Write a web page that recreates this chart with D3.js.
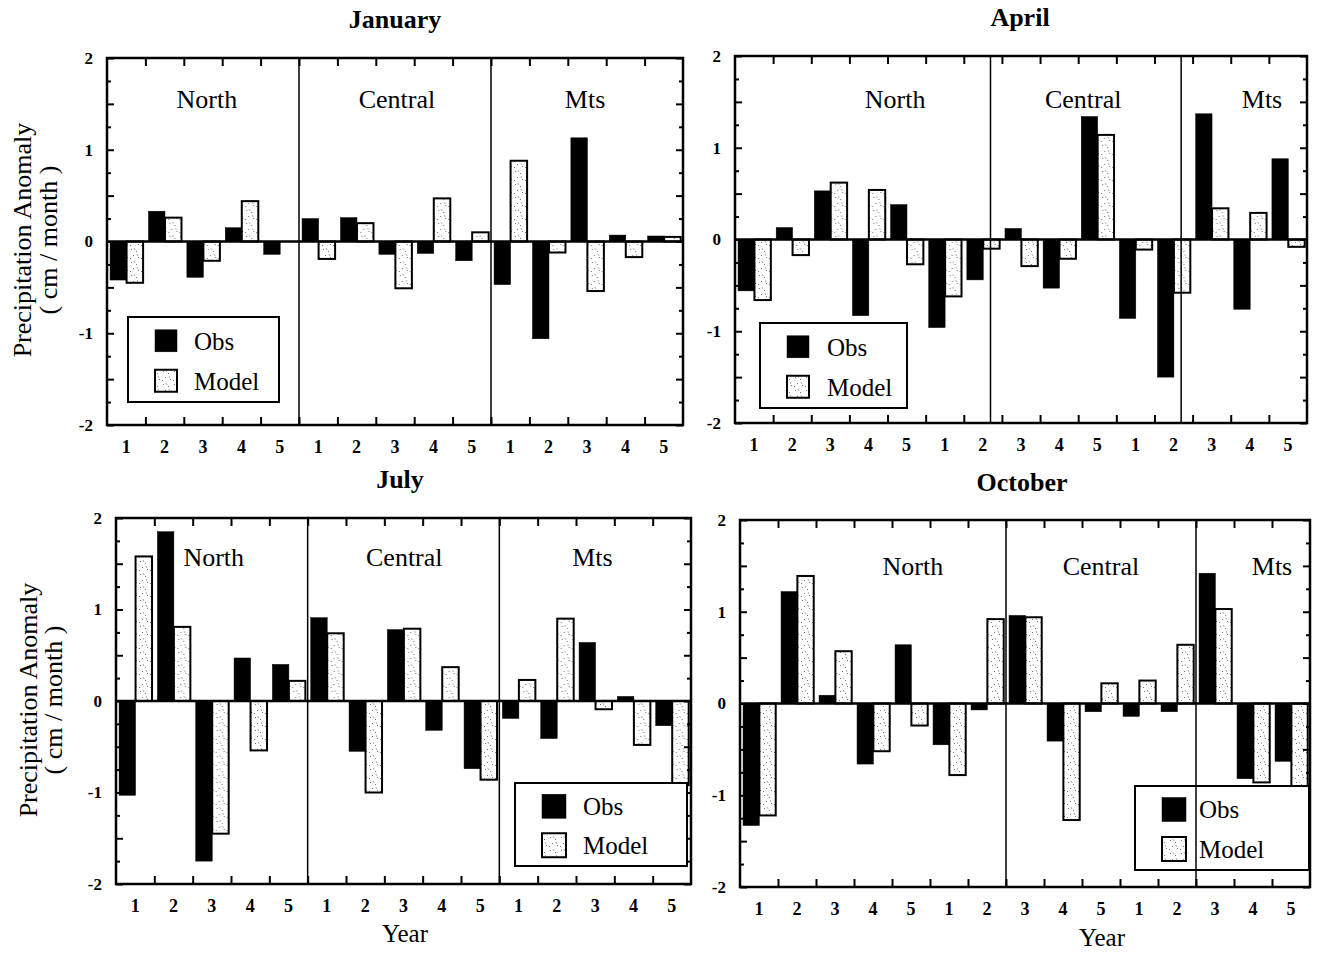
<!DOCTYPE html>
<html>
<head>
<meta charset="utf-8">
<script src="https://cdn.jsdelivr.net/npm/d3@7"></script>
<style>
  body { margin: 0; background: #fff; }
  text { font-family: "Liberation Serif", "Times New Roman", serif; fill: #000; }
</style>
</head>
<body>
<script>
// data (cm / month), 15 slots = 3 regions x 5 years
var regions = ["North", "Central", "Mts"];
var slotLabels = ["1","2","3","4","5","1","2","3","4","5","1","2","3","4","5"];
var series = ["Obs", "Model"];

var janObs   = [-0.42, 0.33, -0.39, 0.15, -0.14,  0.25, 0.26, -0.14, -0.13, -0.21,  -0.47, -1.06, 1.13, 0.07, 0.06];
var janModel = [-0.45, 0.26, -0.21, 0.44, 0.00,  -0.19, 0.20, -0.51, 0.47, 0.10,  0.88, -0.12, -0.54, -0.17, 0.05];

var aprObs   = [-0.56, 0.13, 0.53, -0.83, 0.38, -0.96, -0.44,  0.12, -0.53, 1.34, -0.86, -1.50,  1.37, -0.76, 0.88];
var aprModel = [-0.66, -0.17, 0.62, 0.54, -0.27, -0.62, -0.10,  -0.29, -0.21, 1.14, -0.11, -0.58,  0.34, 0.29, -0.08];

var julObs   = [-1.03, 1.85, -1.75, 0.47, 0.40,  0.91, -0.55, 0.78, -0.32, -0.74,  -0.19, -0.41, 0.64, 0.05, -0.27];
var julModel = [1.58, 0.81, -1.45, -0.54, 0.22,  0.74, -1.00, 0.79, 0.37, -0.86,  0.23, 0.90, -0.09, -0.48, -0.92];

var octObs   = [-1.33, 1.22, 0.09, -0.66, 0.64, -0.45, -0.07,  0.96, -0.41, -0.09, -0.14, -0.09,  1.42, -0.82, -0.63];
var octModel = [-1.22, 1.39, 0.57, -0.52, -0.24, -0.78, 0.92,  0.94, -1.27, 0.22, 0.25, 0.64,  1.03, -0.86, -1.03];

var yTickLabels = [-2, -1, 0, 1, 2];

var panels = [
  { title: "January", obs: janObs, model: janModel,
    box: {l: 107, r: 683, t: 58, b: 425}, titleX: 395, titleY: 28,
    dividers: [5, 10], regionPos: [2.6, 7.55, 12.45], regionY: 1.55,
    legend: {x: 128, y: 317, w: 151, h: 85, s: 22, tx: 66}, yTitle: [22, 48, 240] },
  { title: "April", obs: aprObs, model: aprModel,
    box: {l: 735, r: 1307, t: 56, b: 423}, titleX: 1020, titleY: 26,
    dividers: [6.7, 11.7], regionPos: [4.2, 9.13, 13.82], regionY: 1.53,
    legend: {x: 760, y: 323, w: 147, h: 85, s: 22, tx: 67} },
  { title: "July", obs: julObs, model: julModel,
    box: {l: 116, r: 691, t: 518, b: 884}, titleX: 400, titleY: 488,
    dividers: [5, 10], regionPos: [2.55, 7.52, 12.43], regionY: 1.57,
    legend: {x: 515, y: 783, w: 172, h: 83, s: 24, tx: 68}, yTitle: [28, 53, 700], xTitle: [405, 942] },
  { title: "October", obs: octObs, model: octModel,
    box: {l: 740, r: 1310, t: 520, b: 887}, titleX: 1022, titleY: 491,
    dividers: [7, 12], regionPos: [4.55, 9.5, 14.0], regionY: 1.50,
    legend: {x: 1135, y: 786, w: 174, h: 84, s: 24, tx: 64}, xTitle: [1102, 946] }
];

var svg = d3.select("body").append("svg")
  .attr("width", 1317)
  .attr("height", 954);

// stipple fill for the model bars
var pat = svg.append("defs").append("pattern")
  .attr("id", "stipple")
  .attr("patternUnits", "userSpaceOnUse")
  .attr("width", 11).attr("height", 13);
pat.append("rect").attr("width", 11).attr("height", 13).attr("fill", "#fff");
[[2,2],[7,4],[4,8],[9,10],[1,11]].forEach(function(p) {
  pat.append("rect").attr("x", p[0]).attr("y", p[1]).attr("width", 1).attr("height", 1).attr("fill", "#777");
});
pat.append("path").attr("d", "M5,1 L6,3 M8,7 L9,9").attr("stroke", "#999").attr("stroke-width", 0.8);

panels.forEach(drawPanel);

function drawPanel(p) {
  var b = p.box;
  var g = svg.append("g");

  var x = d3.scaleLinear().domain([0, 15]).range([b.l, b.r]);
  var xBand = d3.scaleBand().domain(d3.range(15)).range([b.l, b.r]);
  var inner = d3.scaleBand().domain(series)
    .range([xBand.bandwidth() * 0.08, xBand.bandwidth() * 0.94]);
  var y = d3.scaleLinear().domain([-2, 2]).range([b.b, b.t]);

  // title
  g.append("text")
    .attr("x", p.titleX).attr("y", p.titleY)
    .attr("text-anchor", "middle")
    .style("font-size", "26px").style("font-weight", "bold")
    .text(p.title);

  // bars
  var rows = d3.range(15).map(function(i) {
    return { i: i, Obs: p.obs[i], Model: p.model[i] };
  });
  var slot = g.selectAll(".slot")
    .data(rows)
    .enter().append("g")
    .attr("transform", function(d) { return "translate(" + xBand(d.i) + ",0)"; });

  slot.selectAll("rect")
    .data(function(d) { return series.map(function(k) { return {key: k, v: d[k]}; }); })
    .enter().append("rect")
    .attr("x", function(d) { return inner(d.key); })
    .attr("width", inner.bandwidth())
    .attr("y", function(d) { return y(Math.max(0, d.v)); })
    .attr("height", function(d) { return Math.abs(y(d.v) - y(0)); })
    .attr("fill", function(d) { return d.key == "Obs" ? "#000" : "url(#stipple)"; })
    .attr("stroke", "#000")
    .attr("stroke-width", function(d) { return d.key == "Obs" ? 0.5 : 2; });

  // zero line
  g.append("line")
    .attr("x1", b.l).attr("x2", b.r)
    .attr("y1", y(0)).attr("y2", y(0))
    .attr("stroke", "#000").attr("stroke-width", 2.5);

  // y ticks, inward on both sides
  var major = d3.range(-2, 2.01, 0.5);
  var minor = d3.range(-1.75, 2, 0.5);
  [[major, 7], [minor, 4]].forEach(function(t) {
    g.append("g").attr("transform", "translate(" + b.l + ",0)")
      .call(d3.axisLeft(y).tickValues(t[0]).tickSize(-t[1]).tickFormat(""))
      .call(function(a) { a.select(".domain").remove(); a.selectAll("line").attr("stroke-width", 2); });
    g.append("g").attr("transform", "translate(" + b.r + ",0)")
      .call(d3.axisRight(y).tickValues(t[0]).tickSize(-t[1]).tickFormat(""))
      .call(function(a) { a.select(".domain").remove(); a.selectAll("line").attr("stroke-width", 2); });
  });

  // y labels
  g.append("g").attr("transform", "translate(" + b.l + ",0)")
    .call(d3.axisLeft(y).tickValues(yTickLabels).tickSize(0).tickPadding(14)
      .tickFormat(function(d) { return String(d); }))
    .call(function(a) {
      a.select(".domain").remove();
      a.selectAll("text").style("font-size", "17px").style("font-weight", "bold")
        .style("font-family", "'Liberation Serif', serif");
    });

  // x ticks at slot boundaries, top and bottom
  g.append("g").attr("transform", "translate(0," + b.b + ")")
    .call(d3.axisBottom(x).tickValues(d3.range(1, 15)).tickSize(-8).tickFormat(""))
    .call(function(a) { a.select(".domain").remove(); a.selectAll("line").attr("stroke-width", 2); });
  g.append("g").attr("transform", "translate(0," + b.t + ")")
    .call(d3.axisTop(x).tickValues(d3.range(1, 15)).tickSize(-8).tickFormat(""))
    .call(function(a) { a.select(".domain").remove(); a.selectAll("line").attr("stroke-width", 2); });

  // x labels
  g.append("g").attr("transform", "translate(0," + b.b + ")")
    .call(d3.axisBottom(xBand).tickSize(0).tickPadding(15)
      .tickFormat(function(i) { return slotLabels[i]; }))
    .call(function(a) {
      a.select(".domain").remove();
      a.selectAll("text").style("font-size", "18px").style("font-weight", "bold")
        .style("font-family", "'Liberation Serif', serif");
    });

  // region names
  g.selectAll(".region")
    .data(regions)
    .enter().append("text")
    .attr("x", function(d, i) { return x(p.regionPos[i]); })
    .attr("y", y(p.regionY))
    .attr("dy", "0.35em")
    .attr("text-anchor", "middle")
    .style("font-size", "26px")
    .text(function(d) { return d; });

  // legend
  var L = p.legend;
  var lg = g.append("g").attr("transform", "translate(" + L.x + "," + L.y + ")");
  lg.append("rect").attr("width", L.w).attr("height", L.h)
    .attr("fill", "#fff").attr("stroke", "#000").attr("stroke-width", 2);
  series.forEach(function(k, j) {
    var cy = L.h * (j == 0 ? 0.28 : 0.75);
    lg.append("rect")
      .attr("x", 27).attr("y", cy - L.s / 2)
      .attr("width", L.s).attr("height", L.s)
      .attr("fill", k == "Obs" ? "#000" : "url(#stipple)")
      .attr("stroke", "#000").attr("stroke-width", k == "Obs" ? 0.5 : 2);
    lg.append("text")
      .attr("x", L.tx).attr("y", cy).attr("dy", "0.35em")
      .style("font-size", "25px")
      .text(k);
  });

  // region dividers
  g.selectAll(".divider")
    .data(p.dividers)
    .enter().append("line")
    .attr("x1", function(d) { return x(d); }).attr("x2", function(d) { return x(d); })
    .attr("y1", b.t).attr("y2", b.b)
    .attr("stroke", "#000").attr("stroke-width", 1.5);

  // frame
  g.append("rect")
    .attr("x", b.l).attr("y", b.t)
    .attr("width", b.r - b.l).attr("height", b.b - b.t)
    .attr("fill", "none").attr("stroke", "#000").attr("stroke-width", 2.5);

  // axis titles
  if (p.yTitle) {
    [["Precipitation Anomaly", p.yTitle[0]], ["( cm / month )", p.yTitle[1]]].forEach(function(t) {
      g.append("text")
        .attr("transform", "translate(" + t[1] + "," + p.yTitle[2] + ") rotate(-90)")
        .attr("text-anchor", "middle").attr("dy", "0.35em")
        .style("font-size", "26px")
        .text(t[0]);
    });
  }
  if (p.xTitle) {
    g.append("text")
      .attr("x", p.xTitle[0]).attr("y", p.xTitle[1])
      .attr("text-anchor", "middle")
      .style("font-size", "25px")
      .text("Year");
  }
}
</script>
</body>
</html>
